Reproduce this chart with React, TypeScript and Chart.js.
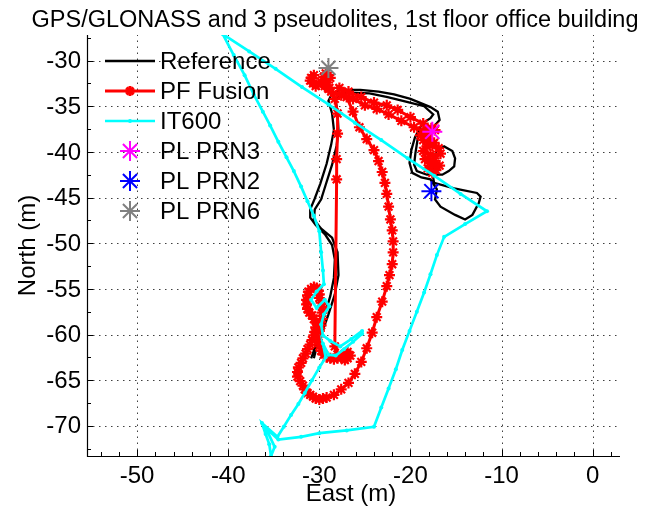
import React, { useEffect, useRef } from 'react';
import { Chart, registerables } from 'chart.js';

Chart.register(...registerables);

const titleText = 'GPS/GLONASS and 3 pseudolites, 1st floor office building';
const xLabel = 'East (m)';
const yLabel = 'North (m)';
const xTicks = [-50, -40, -30, -20, -10, 0];
const yTicks = [-70, -65, -60, -55, -50, -45, -40, -35, -30];
const xMinorTicks = [-54, -52, -48, -46, -44, -42, -38, -36, -34, -32, -28, -26, -24, -22, -18, -16, -14, -12, -8, -6, -4, -2, 2];
const yMinorTicks = [-72.5, -67.5, -62.5, -57.5, -52.5, -47.5, -42.5, -37.5, -32.5, -27.5];
const xMin = -55.5;
const xMax = 3.0;
const yMin = -73.3;
const yMax = -27.2;

const seriesNames = ['Reference', 'PF Fusion', 'IT600'];

const refEast = [-30.9, -30.5, -30.0, -29.4, -28.8, -28.4, -28.3, -28.6, -29.4, -30.4, -31.0, -31.0, -30.5, -29.9, -29.2, -28.7, -28.4, -28.6, -29.0, -28.6, -27.7, -25.5, -23.5, -21.8, -20.0, -17.8, -17.0, -16.8, -17.5, -18.6, -19.1, -19.45, -19.6, -19.3, -18.2, -16.5, -15.8, -15.2, -15.1, -15.4, -16.3, -17.2, -17.6, -17.4, -15.2, -12.7, -12.3, -12.5, -13.2, -14.0, -15.1, -16.7, -17.3, -17.1, -17.8, -18.8, -19.8, -20.1, -19.9, -19.5, -18.7, -17.8, -17.5, -18.5, -20.5, -22.5, -24.5, -26.5, -27.6, -28.2, -28.0, -27.9, -28.1, -28.6, -29.3, -29.8, -30.5, -30.6, -29.8, -28.6, -28.0, -27.9, -28.3, -29.0, -29.7, -30.3, -30.6];
const refNorth = [-62.6, -61.5, -59.8, -57.8, -55.8, -53.8, -51.8, -50.2, -49.0, -48.0, -47.2, -46.3, -45.1, -43.5, -41.3, -39.2, -37.6, -35.8, -34.4, -33.6, -33.2, -33.2, -33.4, -33.7, -34.2, -35.1, -35.6, -36.5, -37.3, -37.6, -37.9, -40.1, -41.4, -42.1, -42.5, -42.5, -42.1, -41.6, -40.7, -39.9, -39.4, -40.0, -42.3, -43.4, -44.0, -44.5, -44.9, -45.6, -46.9, -47.4, -46.9, -46.0, -45.2, -44.1, -43.0, -42.8, -42.3, -41.2, -39.8, -38.4, -36.9, -36.3, -35.9, -35.0, -34.5, -34.0, -33.6, -33.5, -33.6, -34.3, -35.8, -37.6, -39.3, -41.4, -43.6, -45.2, -46.3, -47.4, -48.4, -49.4, -51.0, -53.5, -55.6, -57.8, -59.8, -61.4, -62.6];

const pfEast = [
  -30.6, -30.9, -31.0, -30.7, -30.4, -30.1, -29.8, -29.5, -29.3, -29.0, -28.8, -29.1, -29.4, -29.0, -28.7,
  -27.6, -26.3, -25.0, -23.7, -22.4, -21.0, -19.6, -18.4,
  -17.7, -18.3, -18.0, -17.4, -18.2, -18.6, -17.8, -18.4, -17.9, -17.3, -18.1, -17.6, -17.2, -16.8, -17.4, -16.7, -16.9, -17.6, -18.6, -18.9, -18.0, -17.3,
  -18.6, -20.0, -21.4, -22.6, -24.0, -25.4, -26.8, -27.8,
  -27.0, -26.3, -25.6, -24.8, -24.0, -23.5, -23.1, -22.8, -22.6, -22.4, -22.2, -22.0, -21.9, -21.9, -22.0, -22.3, -22.6, -23.1, -23.7, -24.2, -24.8, -25.4, -26.1, -26.8, -27.6, -28.4, -29.2,
  -29.6, -30.0, -30.4, -30.7, -31.0, -31.3, -31.6, -31.8, -32.1, -32.4, -32.4, -32.3, -32.0, -31.8, -31.5, -31.3, -31.0, -30.8, -30.6, -30.5, -30.4, -30.3, -30.6, -30.8, -31.1, -31.3, -31.4, -31.4, -31.3, -31.2, -30.9, -30.6, -30.3, -30.1, -30.0, -30.0, -29.8, -29.7, -29.7, -29.7, -29.8, -30.0, -30.1, -30.2, -30.0, -29.8, -29.5, -29.2, -28.8, -28.4, -28.0, -27.6, -27.2, -26.9, -26.6, -26.9, -27.2, -27.6, -28.0, -28.3,
  -28.1, -28.1, -28.0, -28.0, -28.3, -28.9, -29.5,
];
const pfNorth = [
  -31.6, -31.9, -32.2, -32.5, -32.8, -32.6, -32.3, -31.8, -31.4, -31.6, -31.9, -32.4, -32.8, -33.1, -33.4,
  -33.8, -34.2, -34.9, -35.3, -35.9, -36.6, -37.3, -37.8,
  -37.4, -38.0, -38.6, -39.0, -39.4, -39.9, -40.3, -40.8, -41.2, -41.3, -41.8, -42.3, -42.0, -41.5, -40.7, -40.2, -39.6, -39.3, -38.7, -38.2, -37.9, -37.6,
  -36.9, -36.2, -35.4, -34.9, -34.6, -34.0, -33.4, -33.0,
  -34.0, -35.6, -37.3, -38.6, -39.8, -41.0, -42.2, -43.4, -44.6, -46.0, -47.4, -48.6, -49.8, -51.0, -52.3, -53.5, -54.7, -56.4, -58.1, -59.8, -61.5, -63.0, -64.3, -65.3, -66.0, -66.6, -66.9,
  -67.0, -67.1, -67.0, -66.8, -66.6, -66.4, -66.0, -65.6, -65.1, -64.6, -64.1, -63.6, -63.1, -62.6, -62.1, -61.6, -61.1, -60.6, -60.1, -59.7, -59.2, -58.7, -58.3, -57.9, -57.6, -57.2, -56.7, -56.2, -55.7, -55.3, -55.0, -54.8, -54.9, -55.2, -55.6, -56.0, -56.5, -57.0, -57.6, -58.3, -59.0, -59.6, -60.2, -60.8, -61.3, -61.8, -62.2, -62.5, -62.6, -62.7, -62.6, -62.4, -62.1, -61.9, -62.3, -62.6, -62.8, -62.5, -62.2, -61.3,
  -43.0, -40.8, -38.0, -35.8, -34.2, -33.0, -31.8,
];

const itEast = [-25.3, -26.3, -27.3, -28.2, -29.0, -29.6, -29.3, -30.0, -30.8, -31.6, -32.3, -33.1, -33.9, -34.6, -36.3, -35.9, -35.5, -35.3, -34.9, -35.9, -34.5, -32.0, -30.0, -27.0, -24.0, -23.2, -22.4, -21.6, -20.9, -20.1, -19.3, -18.5, -17.8, -17.1, -16.3, -14.0, -11.6, -14.5, -17.4, -20.3, -23.2, -26.1, -29.0, -31.9, -34.8, -37.7, -40.6, -39.4, -38.2, -37.2, -36.2, -35.4, -34.5, -33.6, -32.8, -32.0, -31.3, -30.6, -30.0, -29.8, -29.6, -29.5, -30.3, -30.9, -30.3, -29.4, -28.9, -29.5, -29.8, -29.6, -28.8, -27.7, -26.5, -25.3];
const itNorth = [-59.9, -60.8, -61.6, -62.3, -62.2, -61.0, -62.5, -63.6, -65.0, -66.4, -67.6, -68.8, -70.1, -71.2, -69.7, -70.9, -72.0, -73.3, -72.3, -70.2, -71.5, -71.2, -70.8, -70.5, -70.1, -68.0, -65.9, -63.8, -61.7, -59.6, -57.5, -55.4, -53.4, -51.3, -49.3, -47.9, -46.5, -44.6, -42.6, -40.7, -38.7, -36.8, -34.8, -32.9, -30.9, -29.0, -27.1, -29.4, -31.6, -33.7, -35.6, -37.1, -38.9, -40.6, -42.1, -43.8, -45.4, -47.0, -48.7, -51.0, -53.0, -54.5, -55.3, -56.2, -57.1, -56.2, -56.9, -57.8, -58.9, -60.1, -60.7, -61.3, -60.5, -59.6];

const plNames = ['PL PRN3', 'PL PRN2', 'PL PRN6'];
const plEast = [-17.6, -17.7, -29.0];
const plNorth = [-37.8, -44.3, -30.8];
const plColors = ['#ff00ff', '#0000ff', '#808080'];

const FONT = '"Liberation Sans", Arial, Helvetica, sans-serif';

const toPoints = (xs: number[], ys: number[]) => xs.map((x, i) => ({ x, y: ys[i] }));

function drawAsterisk(ctx: CanvasRenderingContext2D, x: number, y: number, r: number, color: string, w: number) {
  ctx.save();
  ctx.strokeStyle = color;
  ctx.lineWidth = w;
  ctx.beginPath();
  ctx.moveTo(x - r, y); ctx.lineTo(x + r, y);
  ctx.moveTo(x, y - r); ctx.lineTo(x, y + r);
  const d = r * 0.7071;
  ctx.moveTo(x - d, y - d); ctx.lineTo(x + d, y + d);
  ctx.moveTo(x - d, y + d); ctx.lineTo(x + d, y - d);
  ctx.stroke();
  ctx.restore();
}

const axesPlugin = {
  id: 'matlabAxes',
  beforeDatasetsDraw(chart: any) {
    const { ctx, chartArea, scales } = chart;
    const xs = scales.x;
    const ys = scales.y;
    ctx.save();
    ctx.strokeStyle = 'rgba(0,0,0,0.75)';
    ctx.lineWidth = 1;
    ctx.setLineDash([1.5, 4.5]);
    xTicks.forEach((v) => {
      const px = Math.round(xs.getPixelForValue(v)) + 0.5;
      ctx.beginPath();
      ctx.moveTo(px, chartArea.bottom);
      ctx.lineTo(px, chartArea.top);
      ctx.stroke();
    });
    yTicks.forEach((v) => {
      const py = Math.round(ys.getPixelForValue(v)) + 0.5;
      ctx.beginPath();
      ctx.moveTo(chartArea.left, py);
      ctx.lineTo(chartArea.right, py);
      ctx.stroke();
    });
    ctx.setLineDash([]);
    ctx.strokeStyle = '#000';
    ctx.lineWidth = 1.2;
    ctx.beginPath();
    ctx.moveTo(chartArea.left + 0.5, chartArea.top);
    ctx.lineTo(chartArea.left + 0.5, chartArea.bottom + 0.5);
    ctx.lineTo(chartArea.right, chartArea.bottom + 0.5);
    ctx.stroke();
    ctx.lineWidth = 1;
    ctx.beginPath();
    xTicks.forEach((v) => {
      const px = Math.round(xs.getPixelForValue(v)) + 0.5;
      ctx.moveTo(px, chartArea.bottom);
      ctx.lineTo(px, chartArea.bottom - 6);
    });
    xMinorTicks.forEach((v) => {
      const px = Math.round(xs.getPixelForValue(v)) + 0.5;
      ctx.moveTo(px, chartArea.bottom);
      ctx.lineTo(px, chartArea.bottom - 4);
    });
    yTicks.forEach((v) => {
      const py = Math.round(ys.getPixelForValue(v)) + 0.5;
      ctx.moveTo(chartArea.left, py);
      ctx.lineTo(chartArea.left + 6, py);
    });
    yMinorTicks.forEach((v) => {
      const py = Math.round(ys.getPixelForValue(v)) + 0.5;
      ctx.moveTo(chartArea.left, py);
      ctx.lineTo(chartArea.left + 4, py);
    });
    ctx.stroke();
    ctx.restore();
  },
  afterDraw(chart: any) {
    const { ctx, chartArea, scales } = chart;
    const xs = scales.x;
    const ys = scales.y;
    ctx.save();
    ctx.fillStyle = '#000';
    ctx.font = `24px ${FONT}`;
    ctx.textAlign = 'center';
    ctx.textBaseline = 'alphabetic';
    xTicks.forEach((v) => {
      ctx.fillText(String(v), xs.getPixelForValue(v), chartArea.bottom + 27);
    });
    ctx.textAlign = 'right';
    ctx.textBaseline = 'middle';
    yTicks.forEach((v) => {
      ctx.fillText(String(v), chartArea.left - 6, ys.getPixelForValue(v) + 1);
    });
    ctx.textAlign = 'center';
    ctx.textBaseline = 'alphabetic';
    ctx.font = `23.5px ${FONT}`;
    ctx.fillText(titleText, 335, 27);
    ctx.font = `24px ${FONT}`;
    ctx.fillText(xLabel, 351, 501);
    ctx.save();
    ctx.translate(28, (chartArea.top + chartArea.bottom) / 2);
    ctx.rotate(-Math.PI / 2);
    ctx.textBaseline = 'middle';
    ctx.fillText(yLabel, 0, 0);
    ctx.restore();
    const rows = [61, 91, 121, 151, 181, 211];
    const lx0 = 105, lx1 = 155, mx = 130, tx = 160;
    ctx.textAlign = 'left';
    ctx.textBaseline = 'middle';
    const ds = chart.data.datasets;
    for (let i = 0; i < 3; i++) {
      const d = ds[i];
      ctx.strokeStyle = d.borderColor;
      ctx.lineWidth = d.borderWidth;
      ctx.beginPath();
      ctx.moveTo(lx0, rows[i]);
      ctx.lineTo(lx1, rows[i]);
      ctx.stroke();
      if (i === 1) drawAsterisk(ctx, mx, rows[i], 5, d.borderColor, 3);
      if (i === 2) {
        ctx.fillStyle = d.borderColor;
        ctx.beginPath();
        ctx.arc(mx, rows[i], 2, 0, Math.PI * 2);
        ctx.fill();
      }
      ctx.fillStyle = '#000';
      ctx.fillText(seriesNames[i], tx, rows[i] + 1);
    }
    for (let j = 0; j < 3; j++) {
      drawAsterisk(ctx, mx, rows[3 + j], 10, plColors[j], 2);
      ctx.fillStyle = '#000';
      ctx.fillText(plNames[j], tx, rows[3 + j] + 1);
    }
    ctx.restore();
  },
};

export default function App() {
  const canvasRef = useRef<HTMLCanvasElement | null>(null);
  useEffect(() => {
    document.body.style.margin = '0';
    const canvas = canvasRef.current;
    if (!canvas) return;
    const plDatasets = plNames.map((name, j) => ({
      label: name,
      data: [{ x: plEast[j], y: plNorth[j] }],
      showLine: false,
      pointStyle: 'star',
      pointRadius: 10,
      borderColor: plColors[j],
      backgroundColor: plColors[j],
      pointBorderWidth: 2,
      order: 1,
    }));
    const chart = new Chart(canvas, {
      type: 'scatter',
      data: {
        datasets: [
          {
            label: seriesNames[0],
            data: toPoints(refEast, refNorth),
            showLine: true,
            borderColor: '#000000',
            backgroundColor: '#000000',
            borderWidth: 2.3,
            pointRadius: 0,
            tension: 0,
            order: 6,
          },
          {
            label: seriesNames[1],
            data: toPoints(pfEast, pfNorth),
            showLine: true,
            borderColor: '#ff0000',
            backgroundColor: '#ff0000',
            borderWidth: 3,
            pointStyle: 'star',
            pointRadius: 5.5,
            pointBorderWidth: 2.2,
            tension: 0,
            order: 5,
          },
          {
            label: seriesNames[2],
            data: toPoints(itEast, itNorth),
            showLine: true,
            borderColor: '#00ffff',
            backgroundColor: '#00ffff',
            borderWidth: 2.7,
            pointStyle: 'circle',
            pointRadius: 2,
            pointBorderWidth: 0,
            tension: 0,
            order: 4,
          },
          ...plDatasets,
        ],
      } as any,
      options: {
        responsive: false,
        animation: false,
        devicePixelRatio: 1,
        events: [],
        layout: { padding: { left: 0, top: 35, right: 49, bottom: 0 } },
        plugins: { legend: { display: false }, tooltip: { enabled: false }, title: { display: false } },
        scales: {
          x: {
            type: 'linear',
            min: xMin,
            max: xMax,
            grid: { display: false, drawTicks: false },
            border: { display: false },
            ticks: { display: false },
            afterBuildTicks: (s: any) => { s.ticks = xTicks.map((v) => ({ value: v })); },
            afterFit: (s: any) => { s.height = 59; },
          },
          y: {
            type: 'linear',
            min: yMin,
            max: yMax,
            grid: { display: false, drawTicks: false },
            border: { display: false },
            ticks: { display: false },
            afterBuildTicks: (s: any) => { s.ticks = yTicks.map((v) => ({ value: v })); },
            afterFit: (s: any) => { s.width = 87; },
          },
        },
      } as any,
      plugins: [axesPlugin],
    });
    return () => chart.destroy();
  }, []);
  return (
    <div style={{ width: 669, height: 515, background: '#fff' }}>
      <canvas ref={canvasRef} width={669} height={515} style={{ display: 'block' }} />
    </div>
  );
}
